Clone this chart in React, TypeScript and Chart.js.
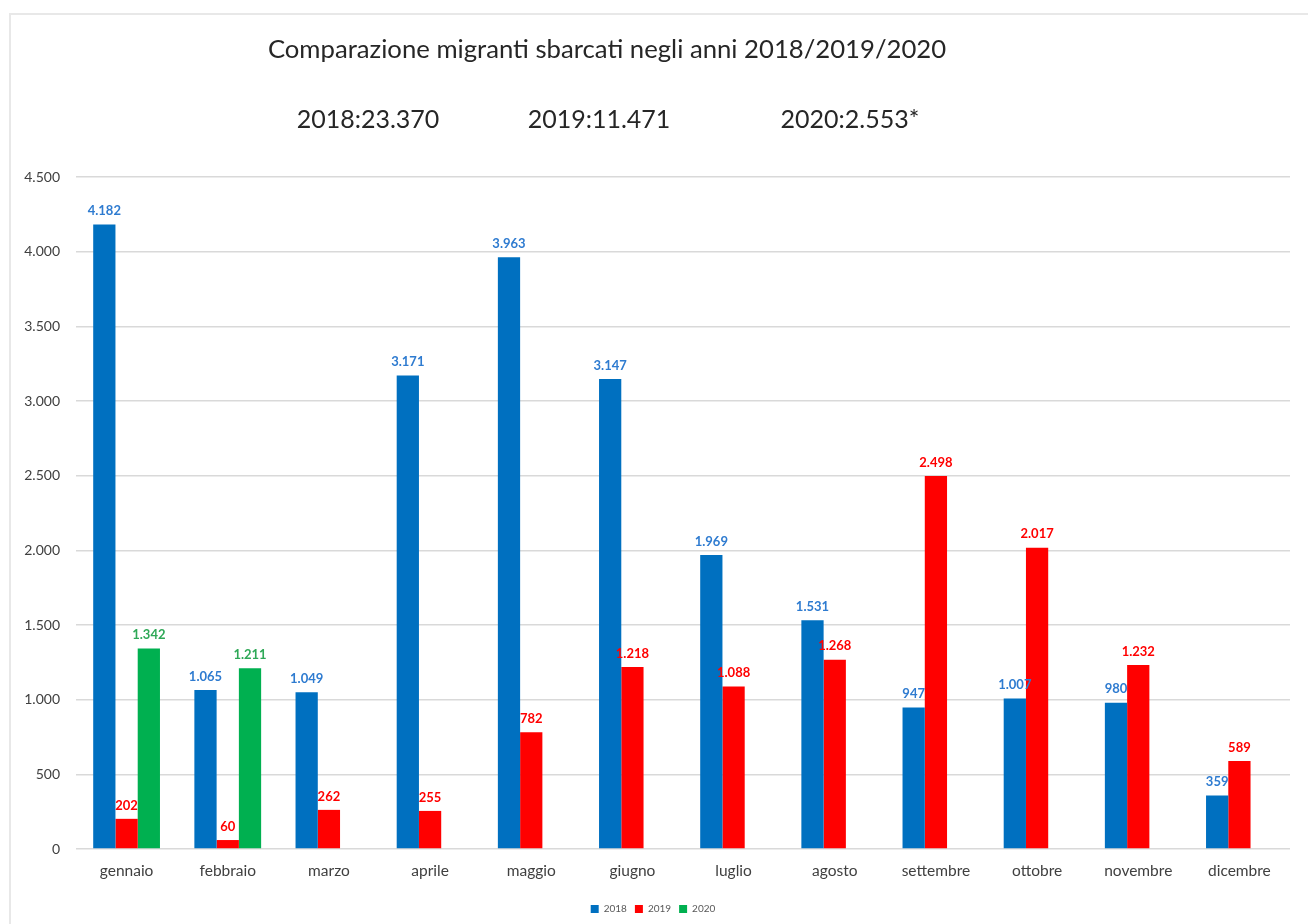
import React, { useEffect, useRef } from "react";
import { Chart, registerables } from "chart.js";

Chart.register(...registerables);

const months = ["gennaio", "febbraio", "marzo", "aprile", "maggio", "giugno", "luglio", "agosto", "settembre", "ottobre", "novembre", "dicembre"];
const values2018 = [4182, 1065, 1049, 3171, 3963, 3147, 1969, 1531, 947, 1007, 980, 359];
const values2019 = [202, 60, 262, 255, 782, 1218, 1088, 1268, 2498, 2017, 1232, 589];
const values2020 = [1342, 1211, null, null, null, null, null, null, null, null, null, null];
const yTicks = [0, 500, 1000, 1500, 2000, 2500, 3000, 3500, 4000, 4500];
const titleText = "Comparazione migranti sbarcati negli anni 2018/2019/2020";
const totals = ["2018:23.370", "2019:11.471", "2020:2.553*"];

const fmt = (v: number) => v.toLocaleString("it-IT");
const FONT = "Lato, 'Liberation Sans', sans-serif";

export default function App() {
  const ref = useRef<HTMLCanvasElement | null>(null);
  useEffect(() => {
    const canvas = ref.current;
    if (!canvas) return;
    const labelColors = ["#2E7BD0", "#FF0000", "#2EA857"];
    const textPlugin = {
      id: "texts",
      afterDraw(chart: any) {
        const ctx = chart.ctx;
        ctx.save();
        ctx.textAlign = "center";
        ctx.textBaseline = "middle";
        ctx.fillStyle = "#262626";
        ctx.font = `25.7px ${FONT}`;
        ctx.fillText(titleText, 607, 50);
        ctx.font = `25px ${FONT}`;
        const xs = [368, 599, 850];
        totals.forEach((t, i) => ctx.fillText(t, xs[i], 120));
        ctx.restore();
      },
      afterDatasetsDraw(chart: any) {
        const ctx = chart.ctx;
        ctx.save();
        ctx.textAlign = "center";
        ctx.textBaseline = "bottom";
        ctx.font = `bold 13px ${FONT}`;
        chart.data.datasets.forEach((ds: any, di: number) => {
          const meta = chart.getDatasetMeta(di);
          meta.data.forEach((el: any, i: number) => {
            const v = ds.data[i];
            if (v === null || v === undefined) return;
            ctx.fillStyle = labelColors[di];
            ctx.fillText(fmt(v), el.x, el.y - 7);
          });
        });
        ctx.restore();
      },
    };
    const chart = new Chart(canvas, {
      type: "bar",
      data: {
        labels: months,
        datasets: [
          { label: "2018", data: values2018, backgroundColor: "#0070C0" },
          { label: "2019", data: values2019, backgroundColor: "#FF0000" },
          { label: "2020", data: values2020 as any, backgroundColor: "#00B050" },
        ],
      },
      options: {
        animation: false,
        responsive: false,
        maintainAspectRatio: false,
        layout: { padding: { left: 16, right: 18, top: 177, bottom: 0 } },
        datasets: { bar: { categoryPercentage: 0.66, barPercentage: 1 } },
        plugins: {
          title: { display: false },
          tooltip: { enabled: false },
          legend: {
            position: "bottom",
            labels: {
              boxWidth: 8,
              boxHeight: 8,
              padding: 8,
              color: "#595959",
              font: { size: 10, family: FONT },
            },
          },
        },
        scales: {
          x: {
            grid: { display: false, drawTicks: false },
            border: { display: false },
            ticks: { color: "#404040", padding: 13, font: { size: 15.5, family: FONT } },
            afterFit: (s: any) => { s.height = 47; },
          },
          y: {
            min: 0,
            max: 4500,
            afterBuildTicks: (s: any) => { s.ticks = yTicks.map((v) => ({ value: v })); },
            afterFit: (s: any) => { s.width = 60; },
            grid: { color: "#d9d9d9", lineWidth: 1.5, drawTicks: false },
            border: { display: false },
            ticks: {
              color: "#404040",
              padding: 16,
              font: { size: 14, family: FONT },
              callback: (v: any) => fmt(Number(v)),
            },
          },
        },
      },
      plugins: [textPlugin],
    } as any);
    return () => chart.destroy();
  }, []);
  return (
    <div style={{ position: "fixed", left: 0, top: 0, width: 1308, height: 924, background: "#fff", overflow: "hidden" }}>
      <div style={{ position: "absolute", left: 9, top: 13, width: 1400, height: 1000, borderLeft: "2px solid #e8e8e8", borderTop: "2px solid #e8e8e8" }} />
      <canvas ref={ref} width={1308} height={924} style={{ position: "absolute", left: 0, top: 0, width: 1308, height: 924 }} />
    </div>
  );
}
